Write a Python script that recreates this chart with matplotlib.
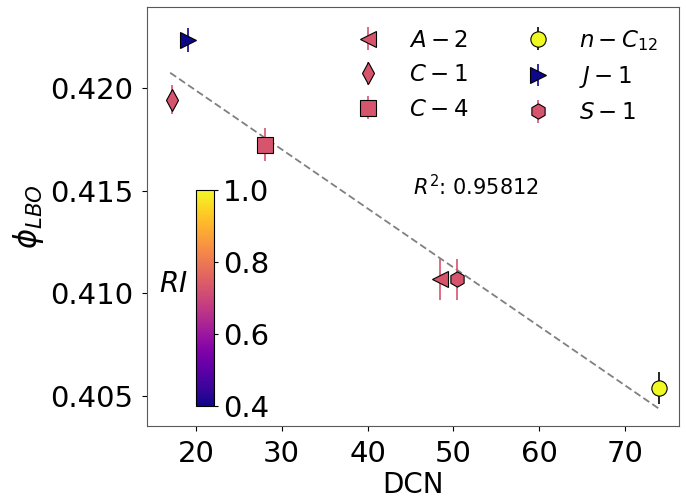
import numpy as np
import matplotlib
matplotlib.use("Agg")
import matplotlib.pyplot as plt
from matplotlib import cm, colors

# fuel data
fuels = ["$A-2$", "$C-1$", "$C-4$", "$n-C_{12}$", "$J-1$", "$S-1$"]
dcn = [48.4, 17.2, 28.0, 74.0, 19.1, 50.4]
phi_lbo = [0.41068, 0.41942, 0.41723, 0.40539, 0.42233, 0.41068]
phi_err = [0.0010, 0.0007, 0.0008, 0.0008, 0.0006, 0.0010]
ri = [0.73, 0.73, 0.73, 1.00, 0.40, 0.73]
markers = ["<", "d", "s", "o", ">", "h"]

# linear fit shown in the figure
fit_coef = [-0.000287, 0.42561]
fit_range = [17.0, 74.0]
r2_text = "$R^2$: 0.95812"

cmap = plt.get_cmap("plasma")
norm = colors.Normalize(vmin=0.4, vmax=1.0)

fig = plt.figure(figsize=(6.86, 5.01), dpi=100)
ax = fig.add_axes([0.2143, 0.1497, 0.7755, 0.8363])

for i in range(len(fuels)):
    c = cmap(norm(ri[i]))
    ecol = "k" if ri[i] >= 1.0 else c
    ax.errorbar(dcn[i], phi_lbo[i], yerr=phi_err[i], fmt=markers[i],
                color=c, ecolor=ecol, mec="k", mew=0.8, ms=11,
                elinewidth=1.2, label=fuels[i], zorder=3)

xf = np.array(fit_range)
ax.plot(xf, np.polyval(fit_coef, xf), ls=(0, (4, 2)), color="0.5", lw=1.3, zorder=2)

ax.set_xlim(14.3, 76.3)
ax.set_ylim(0.40354, 0.42393)
ax.set_xticks([20, 30, 40, 50, 60, 70])
ax.set_yticks([0.405, 0.410, 0.415, 0.420])
ax.tick_params(labelsize=21, length=3.5, pad=6.5)
ax.set_xlabel("DCN", fontsize=20, labelpad=2)
ax.set_ylabel(r"$\phi_{LBO}$", fontsize=22, labelpad=3)
for s in ax.spines.values():
    s.set_color("0.35")

ax.text(0.5, 0.571, r2_text, transform=ax.transAxes, fontsize=15, va="center")

ax.legend(ncol=2, frameon=False, fontsize=16.5, loc="upper right",
          bbox_to_anchor=(1.0, 1.0), handletextpad=0.78, columnspacing=2.05,
          labelspacing=0.5, borderaxespad=0.5)

# inset colorbar
cax = fig.add_axes([0.2857, 0.1896, 0.0262, 0.431])
sm = cm.ScalarMappable(norm=norm, cmap=cmap)
cb = fig.colorbar(sm, cax=cax, ticks=[0.4, 0.6, 0.8, 1.0])
cb.ax.tick_params(labelsize=21, length=3)
cb.outline.set_linewidth(0.8)
cb.ax.set_ylabel("$RI$", fontsize=20, rotation=0, labelpad=16, va="center")
cb.ax.yaxis.set_label_position("left")

fig.savefig("out.png", dpi=100)
